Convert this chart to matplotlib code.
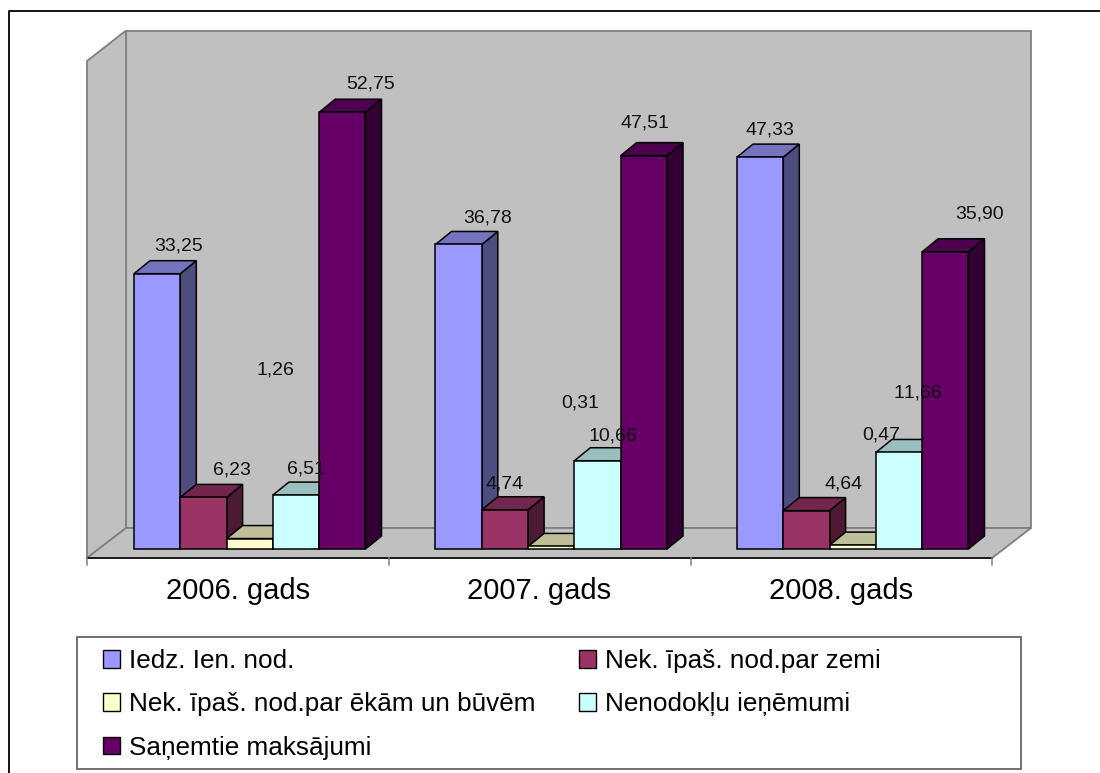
import numpy as np
import matplotlib
matplotlib.use('Agg')
import matplotlib.pyplot as plt
from matplotlib.patches import Patch, Rectangle

plt.rcParams['font.family'] = ['Liberation Sans', 'DejaVu Sans']
plt.rcParams['text.kerning_factor'] = 6

years = ['2006. gads', '2007. gads', '2008. gads']
series_names = ['Iedz. Ien. nod.', 'Nek. īpaš. nod.par zemi',
                'Nek. īpaš. nod.par ēkām un būvēm', 'Nenodokļu ieņēmumi',
                'Saņemtie maksājumi']
iedz = [33.25, 36.78, 47.33]
zeme = [6.23, 4.74, 4.64]
ekas = [1.26, 0.31, 0.47]
nenod = [6.51, 10.66, 11.66]
sanemti = [52.75, 47.51, 35.90]

colors = ['#9999ff', '#993366', '#ffffcc', '#ccffff', '#660066']
all_vals = [iedz, zeme, ekas, nenod, sanemti]
labels = [['33,25', '36,78', '47,33'], ['6,23', '4,74', '4,64'],
          ['1,26', '0,31', '0,47'], ['6,51', '10,66', '11,66'],
          ['52,75', '47,51', '35,90']]
# label centres in pixels, the chart places them oddly
label_x = [[179, 488, 770], [232, 505, 844], [275, 580, 881], [306, 613, 918], [371, 645, 980]]
label_y = [[246, 218, 130], [470, 484, 484], [370, 403, 435], [469, 436, 393], [84, 123, 214]]

W, H = 1100, 773
PX_X = 301.5   # pixels per category
PX_Y = 8.28    # pixels per unit
X0, Y0 = 87, 549
DX, DY = 16 / PX_X, 13 / PX_Y
bar_w = 46.3 / PX_X
bar_start = 47 / PX_X


def px(x, y):
    return (x - X0) / PX_X, (Y0 - y) / PX_Y


fig = plt.figure(figsize=(11, 7.73), dpi=100)
ax = fig.add_axes([0, 0, 1, 1])
ax.set_xlim(px(0, 0)[0], px(W, 0)[0])
ax.set_ylim(px(0, H)[1], px(0, 0)[1])
ax.axis('off')


def poly(points, **kw):
    xs, ys = zip(*[px(*p) for p in points])
    ax.fill(xs, ys, **kw)


# outer frame, only top and left show
ax.plot(*zip(px(8.5, 773), px(8.5, 10.5), px(1100, 10.5)), color='black', lw=1.3, zorder=1)

# walls and floor
wall = dict(facecolor='#c0c0c0', edgecolor='#808080', lw=1.3, zorder=2)
poly([(126, 30.5), (1031, 30.5), (1031, 528), (126, 528)], **wall)
poly([(87, 61), (126, 30.5), (126, 528), (87, 558)], **wall)
poly([(87, 558), (126, 528), (1031, 528), (992, 558)], **wall)
ax.plot(*zip(px(87, 558), px(992, 558)), color='black', lw=1.1, zorder=3)
for tx in [87, 389, 691, 992]:
    ax.plot(*zip(px(tx, 558), px(tx, 565)), color='#808080', lw=1.1, zorder=3)

# bars, left to right so the later ones cover the earlier sides
z = 4
for g in range(3):
    for s in range(5):
        val = all_vals[s][g]
        left = g + bar_start + s * bar_w
        right = left + bar_w
        rgb = np.array(matplotlib.colors.to_rgb(colors[s]))
        ax.fill([right, right + DX, right + DX, right], [0, DY, val + DY, val],
                facecolor=rgb * 0.5, edgecolor='black', lw=1.1, zorder=z)
        ax.fill([left, left + DX, right + DX, right], [val, val + DY, val + DY, val],
                facecolor=rgb * 0.75, edgecolor='black', lw=1.1, zorder=z)
        ax.bar(left, val, bar_w, align='edge', color=colors[s], edgecolor='black', lw=1.1, zorder=z)
        z += 1

for s in range(5):
    for g in range(3):
        lx, ly = px(label_x[s][g], label_y[s][g])
        ax.text(lx, ly, labels[s][g], ha='center', va='center', fontsize=14, color='#111111', zorder=30)

for g, name in enumerate(years):
    lx, ly = px(238 + g * 301.5, 591)
    ax.text(lx, ly, name, ha='center', va='center', fontsize=21, zorder=30)

# legend box
x1, y1 = px(77, 769)
x2, y2 = px(1021, 637)
ax.add_patch(Rectangle((x1, y1), x2 - x1, y2 - y1, facecolor='white', edgecolor='#666666', lw=1.3, zorder=20))
order = [0, 2, 4, 1, 3]
handles = [Patch(facecolor=colors[i], edgecolor='black', lw=1.0, label=series_names[i]) for i in order]
ax.legend(handles=handles, ncol=2, frameon=False, fontsize=18.85, loc='upper left',
          bbox_to_anchor=(103 / W, 1 - 649 / H), handlelength=0.65, handleheight=0.65,
          handletextpad=0.34, labelspacing=0.74, columnspacing=1.68, borderpad=0,
          borderaxespad=0).set_zorder(25)

fig.savefig('out.png', dpi=100)
